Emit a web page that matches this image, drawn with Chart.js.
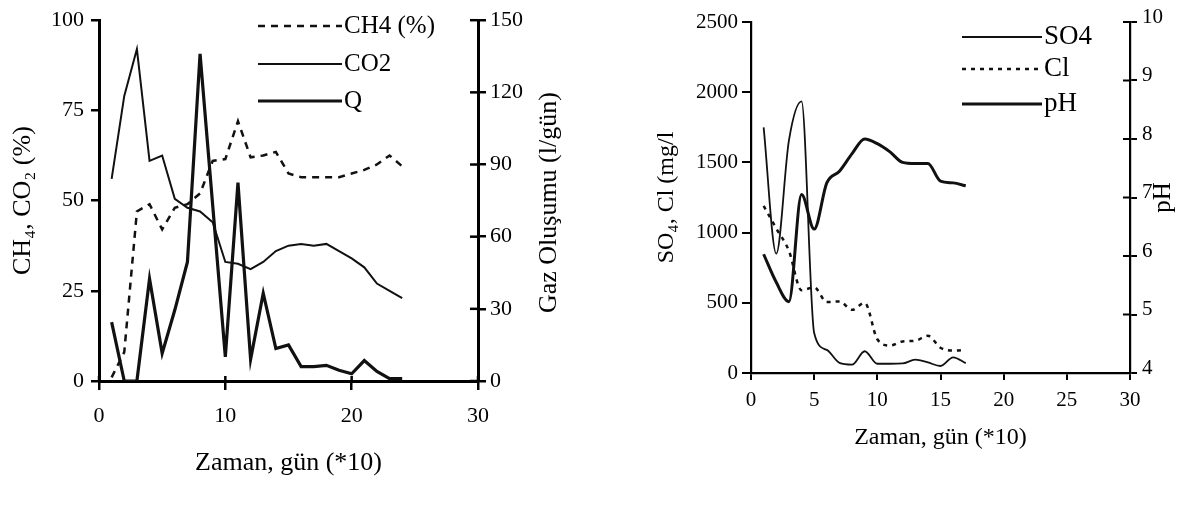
<!DOCTYPE html>
<html><head><meta charset="utf-8">
<script src="https://cdn.jsdelivr.net/npm/chart.js@4.4.1/dist/chart.umd.min.js"></script>
<style>
html,body{margin:0;padding:0;background:#fff;width:1181px;height:508px;overflow:hidden}
canvas{position:absolute;top:0}
#a{left:0}
#b{left:600px}
</style></head><body>
<canvas id="a" width="600" height="508"></canvas>
<canvas id="b" width="581" height="508"></canvas>
<script>
// ---- Left chart data ----
const leftDays = [1,2,3,4,5,6,7,8,9,10,11,12,13,14,15,16,17,18,19,20,21,22,23,24];
const ch4Percent = [1,8,47,49,42,48,49,52,61,61.5,72,62,62.5,63.5,57.5,56.5,56.5,56.5,56.5,57.5,58.5,60,62.5,59.5];
const co2Percent = [56,79,92,61,62.5,50.5,48,47,44,33,32.5,31,33,36,37.5,38,37.5,38,36,34,31.5,27,25,23];
const gasFlow = [24.5,0,0,42.5,11.5,29.5,49.5,136,73,10,82.5,9,36.5,13.5,15,6,6,6.5,4.5,3,8.5,4,1,1];
const leftXTicks = [0,10,20,30];
const leftYTicks = [0,25,50,75,100];
const gasTicks = [0,30,60,90,120,150];

// ---- Right chart data ----
const rightDays = [1,2,3,4,5,6,7,8,9,10,11,12,13,14,15,16,17];
const so4 = [1750,850,1655,1935,285,165,72,60,155,66,66,68,95,75,50,112,70];
const cl = [1190,1030,870,590,610,505,510,450,500,240,195,225,230,265,180,160,165];
const ph = [6.03,5.55,5.22,7.05,6.46,7.25,7.45,7.75,8.0,7.92,7.78,7.6,7.58,7.58,7.28,7.25,7.2];
const rightXTicks = [0,5,10,15,20,25,30];
const concTicks = [0,500,1000,1500,2000,2500];
const phTicks = [4,5,6,7,8,9,10];

const FONT = 'Liberation Serif';
const INK = '#000';

function pts(xs, ys){ return xs.map((x,i)=>({x:x, y:ys[i]})); }
function fixedTicks(arr){ return s => { s.ticks = arr.map(v=>({value:v})); }; }
const plain = v => String(v);

const inwardTicks = {
  id:'inwardTicks',
  afterDraw(chart, args, opts){
    const ctx = chart.ctx;
    (opts.items||[]).forEach(it=>{
      const s = chart.scales[it.scale];
      ctx.save(); ctx.strokeStyle = INK; ctx.lineWidth = it.width;
      s.ticks.forEach(t=>{
        const p = s.getPixelForValue(t.value);
        ctx.beginPath();
        if (s.isHorizontal()) { ctx.moveTo(p, s.top); ctx.lineTo(p, s.top - it.length); }
        else if (s.position === 'right') { ctx.moveTo(s.left, p); ctx.lineTo(s.left - it.length, p); }
        else { ctx.moveTo(s.right, p); ctx.lineTo(s.right + it.length, p); }
        ctx.stroke();
      });
      ctx.restore();
    });
  }
};

const sideTitles = {
  id:'sideTitles',
  afterDraw(chart, args, opts){
    const ctx = chart.ctx, ca = chart.chartArea;
    (opts.items||[]).forEach(it=>{
      ctx.save();
      ctx.font = it.font; ctx.fillStyle = INK;
      ctx.textAlign = 'center'; ctx.textBaseline = 'middle';
      ctx.translate(it.x, (ca.top+ca.bottom)/2 + (it.dy||0));
      ctx.rotate(-Math.PI/2);
      ctx.fillText(it.text, 0, 0);
      ctx.restore();
    });
  }
};

const lineLegend = {
  id:'lineLegend',
  afterDraw(chart, args, opts){
    const ctx = chart.ctx;
    chart.data.datasets.forEach((ds,i)=>{
      const y = opts.ys[i];
      ctx.save();
      ctx.strokeStyle = ds.borderColor; ctx.lineWidth = ds.borderWidth;
      ctx.setLineDash(ds.borderDash||[]);
      ctx.beginPath(); ctx.moveTo(opts.x0, y); ctx.lineTo(opts.x1, y); ctx.stroke();
      ctx.setLineDash([]);
      ctx.font = opts.font; ctx.fillStyle = INK;
      ctx.textAlign = 'left'; ctx.textBaseline = 'middle';
      ctx.fillText(ds.label, opts.x1 + opts.gap, y);
      ctx.restore();
    });
  }
};

function axisGrid(len, w){
  return {display:true, drawOnChartArea:false, drawTicks:true, tickLength:len, tickWidth:w, color:INK, lineWidth:w};
}

// ---------- Left chart ----------
new Chart(document.getElementById('a'), {
  type:'line',
  data:{datasets:[
    {label:'CH4 (%)', data:pts(leftDays, ch4Percent), yAxisID:'y', borderColor:'#111', borderWidth:2.5, borderDash:[7,6], pointRadius:0, tension:0, fill:false},
    {label:'CO2', data:pts(leftDays, co2Percent), yAxisID:'y', borderColor:'#111', borderWidth:2, pointRadius:0, tension:0, fill:false},
    {label:'Q', data:pts(leftDays, gasFlow), yAxisID:'y1', borderColor:'#111', borderWidth:3.2, pointRadius:0, tension:0, fill:false}
  ]},
  options:{
    responsive:false, animation:false, events:[],
    layout:{padding:{top:19,left:0,right:0,bottom:0}},
    plugins:{
      legend:{display:false}, tooltip:{enabled:false},
      lineLegend:{x0:258, x1:342, gap:2, ys:[26,64,101], font:'25px "Liberation Serif"'},
      sideTitles:{items:[{text:'Gaz Oluşumu (l/gün)', x:549, dy:2, font:'26px "Liberation Serif"'}]},
      inwardTicks:{items:[{scale:'x', length:5, width:2.5},{scale:'y1', length:8, width:2.5}]}
    },
    scales:{
      x:{type:'linear', position:'bottom', min:0, max:30,
        afterBuildTicks:fixedTicks(leftXTicks), afterFit:s=>{s.height=127;},
        grid:axisGrid(9,2.5), border:{display:true,color:INK,width:3},
        ticks:{font:{family:FONT,size:22}, color:INK, padding:13, maxRotation:0, autoSkip:false, callback:plain},
        title:{display:true, text:'Zaman, gün (*10)', color:INK, font:{family:FONT,size:26}, padding:{top:4,bottom:29}}
      },
      y:{type:'linear', position:'left', min:0, max:100,
        afterBuildTicks:fixedTicks(leftYTicks), afterFit:s=>{s.width=99;},
        grid:axisGrid(8,2.5), border:{display:true,color:INK,width:3},
        ticks:{font:{family:FONT,size:22}, color:INK, padding:7, callback:plain},
        title:{display:true, text:'CH₄, CO₂ (%)', color:INK, font:{family:FONT,size:26}, padding:{top:8,bottom:4}}
      },
      y1:{type:'linear', position:'right', min:0, max:150,
        afterBuildTicks:fixedTicks(gasTicks), afterFit:s=>{s.width=122;},
        grid:axisGrid(8,2.5), border:{display:true,color:INK,width:3},
        ticks:{font:{family:FONT,size:22}, color:INK, padding:4, callback:plain},
        title:{display:false, text:'Gaz Oluşumu (l/gün)'}
      }
    }
  },
  plugins:[inwardTicks, sideTitles, lineLegend]
});

// ---------- Right chart ----------
new Chart(document.getElementById('b'), {
  type:'line',
  data:{datasets:[
    {label:'SO4', data:pts(rightDays, so4), yAxisID:'y', borderColor:'#111', borderWidth:1.8, pointRadius:0, cubicInterpolationMode:'monotone', fill:false},
    {label:'Cl', data:pts(rightDays, cl), yAxisID:'y', borderColor:'#111', borderWidth:2.5, borderDash:[4,5], pointRadius:0, cubicInterpolationMode:'monotone', fill:false},
    {label:'pH', data:pts(rightDays, ph), yAxisID:'y1', borderColor:'#111', borderWidth:3, pointRadius:0, cubicInterpolationMode:'monotone', fill:false}
  ]},
  options:{
    responsive:false, animation:false, events:[],
    layout:{padding:{top:22,left:0,right:0,bottom:0}},
    plugins:{
      legend:{display:false}, tooltip:{enabled:false},
      lineLegend:{x0:362, x1:442, gap:2, ys:[37,69,104], font:'27px "Liberation Serif"'},
      sideTitles:{items:[{text:'pH', x:563, dy:0, font:'25px "Liberation Serif"'}]},
      inwardTicks:{items:[{scale:'y1', length:7, width:2}]}
    },
    scales:{
      x:{type:'linear', position:'bottom', min:0, max:30,
        afterBuildTicks:fixedTicks(rightXTicks), afterFit:s=>{s.height=135;},
        grid:axisGrid(7,2), border:{display:true,color:INK,width:2.2},
        ticks:{font:{family:FONT,size:21}, color:INK, padding:8, maxRotation:0, autoSkip:false, callback:plain},
        title:{display:true, text:'Zaman, gün (*10)', color:INK, font:{family:FONT,size:24}, padding:{top:4,bottom:56}}
      },
      y:{type:'linear', position:'left', min:0, max:2500,
        afterBuildTicks:fixedTicks(concTicks), afterFit:s=>{s.width=151;},
        grid:axisGrid(9,2), border:{display:true,color:INK,width:2.2},
        ticks:{font:{family:FONT,size:21}, color:INK, padding:4, callback:plain},
        title:{display:true, text:'SO₄, Cl (mg/l', color:INK, font:{family:FONT,size:24}, padding:{top:52,bottom:4}}
      },
      y1:{type:'linear', position:'right', min:4, max:10,
        afterBuildTicks:fixedTicks(phTicks), afterFit:s=>{s.width=51;},
        grid:axisGrid(7,2), border:{display:true,color:INK,width:2.2},
        ticks:{font:{family:FONT,size:21}, color:INK, padding:5, labelOffset:-5, callback:plain},
        title:{display:false, text:'pH'}
      }
    }
  },
  plugins:[inwardTicks, sideTitles, lineLegend]
});
</script>
</body></html>
